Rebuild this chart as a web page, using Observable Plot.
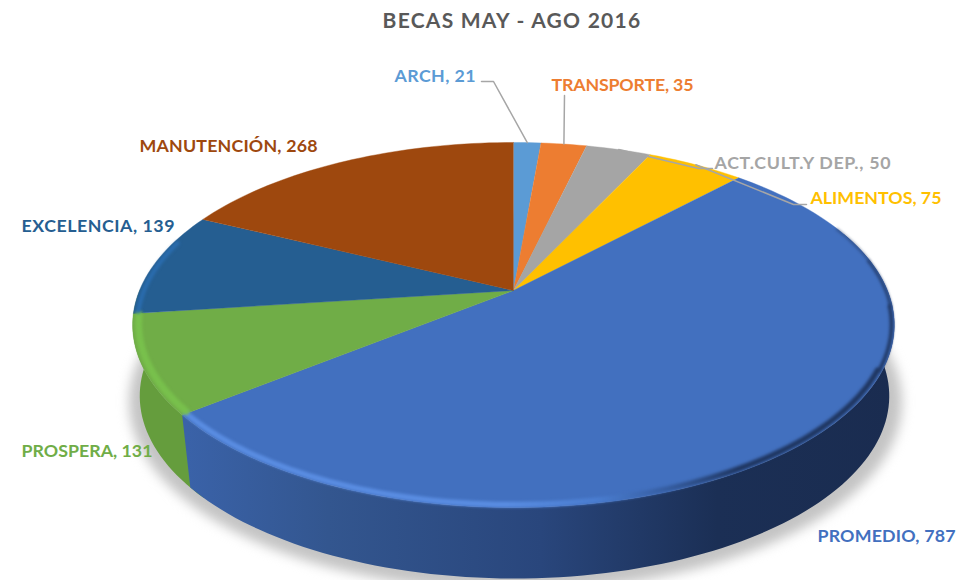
<!DOCTYPE html>
<html lang="es">
<head>
<meta charset="utf-8">
<script src="https://cdn.jsdelivr.net/npm/d3@7"></script>
<script src="https://cdn.jsdelivr.net/npm/@observablehq/plot@0.6"></script>
<style>
  html, body { margin: 0; padding: 0; background: #fff; overflow: hidden; }
  #title { height: 36px; width: 972px; text-align: center; padding-left: 52px; box-sizing: border-box;
           font: bold 21px/40px Lato, sans-serif; color: #595959; letter-spacing: 1.25px; }
  svg { display: block; }
</style>
</head>
<body>
<div id="title">BECAS MAY - AGO 2016</div>
<div id="chart"></div>
<script>
const categories = ["ARCH", "TRANSPORTE", "ACT.CULT.Y DEP.", "ALIMENTOS", "PROMEDIO", "PROSPERA", "EXCELENCIA", "MANUTENCIÓN"];
const values = [21, 35, 50, 75, 787, 131, 139, 268];
const colors = ["#5b9bd5", "#ed7d31", "#a5a5a5", "#ffc000", "#4270bf", "#70ad47", "#255e91", "#9e480e"];

// ---- layout of the perspective pie ----
const W = 972, H = 580, TOP = 36;
const pie = {cx: 513, cy: 290, R: 374, S: 176, k: 0.189, depth: 71, Rbase: 368, baseDx: 1};
const labelPos = {
  "ARCH": [394, 76, 81], "TRANSPORTE": [551, 85, 142], "ACT.CULT.Y DEP.": [714, 163, 176], "ALIMENTOS": [810, 198, 131],
  "PROMEDIO": [817, 536, 138], "PROSPERA": [21, 451, 131], "EXCELENCIA": [21, 226, 153], "MANUTENCIÓN": [139, 146, 178]
};
const leaderEnds = {
  "ARCH": [[493, 81], [481, 81]], "TRANSPORTE": [[564, 95]],
  "ACT.CULT.Y DEP.": [[698, 168], [712, 168]], "ALIMENTOS": [[793, 204], [806, 204]]
};

// ---- geometry derived from the values ----
const total = d3.sum(values);
const rad = (a) => a * Math.PI / 180;
function project(deg, r = 1, base = false) {
  const u = r * Math.sin(rad(deg)), v = -r * Math.cos(rad(deg));
  const w = 1 - pie.k * v;
  return {
    x: pie.cx + (base ? pie.baseDx : 0) + (base ? pie.Rbase : pie.R) * u / w,
    y: pie.cy + (base ? pie.depth : 0) + pie.S * v / w
  };
}
function arc(a0, a1, r = 1, base = false) {
  const n = Math.max(2, Math.ceil(Math.abs(a1 - a0) / 1.5));
  return d3.range(n + 1).map((i) => project(a0 + (a1 - a0) * i / n, r, base));
}
let cum = 0;
const slices = categories.map((name, i) => {
  const a0 = cum / total * 360; cum += values[i]; const a1 = cum / total * 360;
  return {name, value: values[i], a0, a1, mid: (a0 + a1) / 2};
});
const byName = Object.fromEntries(slices.map((s) => [s.name, s]));
const topFaces = slices.flatMap((s) =>
  [{x: pie.cx, y: pie.cy}, ...arc(s.a0, s.a1)].map((p) => ({...p, name: s.name})));
const wall = (a0, a1, baseEnd) => [...arc(a0, a1), ...arc(baseEnd, a0, 1, true)];
const pro = byName["PROMEDIO"], prs = byName["PROSPERA"], exc = byName["EXCELENCIA"];
const shadow = d3.range(0, 360, 3).map((a) => {
  const p = project(a, 1.03, true); return {x: p.x + 1, y: p.y + 4};
});
const leaders = Object.entries(leaderEnds).flatMap(([name, pts]) =>
  [project(byName[name].mid), ...pts.map(([x, y]) => ({x, y}))].map((p) => ({...p, name})));
const labels = slices.map((s) => ({
  name: s.name, x: labelPos[s.name][0], y: labelPos[s.name][1], text: `${s.name}, ${s.value}`
}));

function defs() {
  const svg = d3.create("svg:g");
  const d = svg.append("defs");
  const grad = (id, stops) => {
    const g = d.append("linearGradient").attr("id", id).attr("gradientUnits", "userSpaceOnUse")
      .attr("x1", 187).attr("x2", 893).attr("y1", 0).attr("y2", 0);
    stops.forEach(([o, c]) => g.append("stop").attr("offset", o).attr("stop-color", c));
  };
  grad("wallBlue", [[0, "#3a62a8"], [0.2, "#33568f"], [0.5, "#29467c"], [0.75, "#1b2f55"], [1, "#1a2c50"]]);
  grad("rimBlue", [[0, "#5a8de2"], [0.45, "#5a8de2"], [0.58, "#4a7dd0"], [0.68, "#355c9f"], [0.78, "#1f3661"], [1, "#1f3661"]]);
  return svg.node();
}

// the rim thins out from the front of the pie to its far side
const rimSegments = [[68, 80, 1.2], [80, 95, 2.4], [95, 115, 3.6], [115, pro.a1, 5.5]];

const chart = Plot.plot({
  width: W, height: H - TOP,
  margin: 0,
  x: {domain: [0, W], range: [0, W], axis: null},
  y: {domain: [TOP, H], range: [0, H - TOP], axis: null},
  color: {domain: categories, range: colors},
  marks: [
    defs,
    Plot.line(shadow, {x: "x", y: "y", fill: "#c4c4c4", stroke: "none", curve: "linear-closed", imageFilter: "blur(6px)"}),
    Plot.line(wall(prs.a0 - 4, prs.a1 + 8, prs.a1 + 8), {x: "x", y: "y", fill: "#659d3d", stroke: "none"}),
    Plot.line(wall(70, pro.a1, pro.a1 - 0.5), {x: "x", y: "y", fill: "url(#wallBlue)", stroke: "none"}),
    Plot.line(topFaces, {x: "x", y: "y", z: "name", fill: "name", stroke: "name", strokeWidth: 0.4}),
    ...rimSegments.map(([a0, a1, w]) =>
      Plot.line(arc(a0, a1, 1 - w / 500), {x: "x", y: "y", stroke: "url(#rimBlue)", strokeWidth: w, imageFilter: "blur(1.6px)"})),
    Plot.line(arc(prs.a0 + 0.5, prs.a1 - 0.5, 0.985), {x: "x", y: "y", stroke: "#78c04c", strokeWidth: 7, imageFilter: "blur(1.5px)"}),
    Plot.line(arc(exc.a0 + 0.5, exc.a0 + 24, 0.988), {x: "x", y: "y", stroke: "#2a6db0", strokeWidth: 4, imageFilter: "blur(1.4px)"}),
    Plot.line(leaders, {x: "x", y: "y", z: "name", stroke: "#a6a6a6", strokeWidth: 1.5}),
    Plot.text(labels, {
      x: "x", y: "y", text: "text", fill: "name", textAnchor: "start", lineAnchor: "middle",
      fontFamily: "Lato, sans-serif", fontWeight: 700, fontSize: 17.8
    })
  ]
});
document.getElementById("chart").append(chart);
// stretch each label to the width it has in the reference
d3.select(chart).selectAll("text").each(function () {
  const key = this.textContent.slice(0, this.textContent.lastIndexOf(","));
  if (labelPos[key]) this.setAttribute("textLength", labelPos[key][2]);
});
</script>
</body>
</html>
